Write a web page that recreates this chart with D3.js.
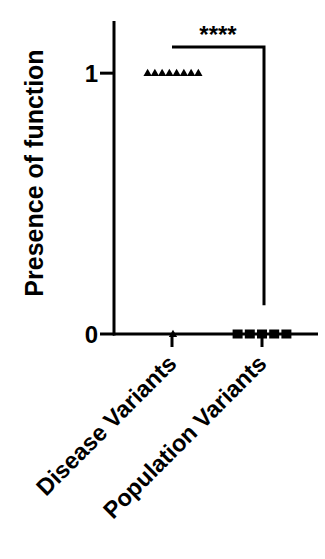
<!DOCTYPE html>
<html>
<head>
<meta charset="utf-8">
<script src="https://cdn.jsdelivr.net/npm/d3@7"></script>
<style>
html,body{margin:0;padding:0;background:#fff;}
svg{display:block;}
text{font-family:"Liberation Sans",Arial,sans-serif;font-weight:bold;fill:#000;}
</style>
</head>
<body>
<svg id="chart" width="325" height="559"></svg>
<script>
// Data
const categories = ["Disease Variants", "Population Variants"];
const diseaseValues = [1, 1, 1, 1, 1, 1, 1, 1, 0];
const populationValues = [0, 0, 0, 0, 0];
const yTicks = [0, 1];
const yLabel = "Presence of function";
const significance = "****";

const svg = d3.select("#chart");
const x = d3.scalePoint().domain(categories).range([172, 262]);
const y = d3.scaleLinear().domain([0, 1.2]).range([334, 21]);
const stroke = 3;

// y axis
svg.append("line").attr("x1", 114).attr("x2", 114).attr("y1", y(1.2)).attr("y2", y(0) + stroke/2)
  .attr("stroke", "#000").attr("stroke-width", stroke);
yTicks.forEach(t => {
  svg.append("line").attr("x1", 100).attr("x2", 114).attr("y1", y(t)).attr("y2", y(t))
    .attr("stroke", "#000").attr("stroke-width", stroke);
  svg.append("text").attr("x", 98).attr("y", y(t)).attr("dy", "0.36em")
    .attr("text-anchor", "end").attr("font-size", 24).text(t);
});
// x axis
svg.append("line").attr("x1", 113).attr("x2", 318).attr("y1", y(0)).attr("y2", y(0))
  .attr("stroke", "#000").attr("stroke-width", stroke);
categories.forEach(c => {
  svg.append("line").attr("x1", x(c)).attr("x2", x(c)).attr("y1", y(0)).attr("y2", y(0) + 13)
    .attr("stroke", "#000").attr("stroke-width", stroke);
  svg.append("text")
    .attr("transform", `translate(${x(c) + 6},${y(0) + 31}) rotate(-45)`)
    .attr("text-anchor", "end").attr("font-size", 23.5).text(c);
});
// y label
svg.append("text").attr("transform", `translate(43,173) rotate(-90)`)
  .attr("text-anchor", "middle").attr("font-size", 25).text(yLabel);

// points: spread equal values symmetrically around column center
function spread(values, pitch) {
  const groups = d3.group(values.map((v, i) => ({v, i})), d => d.v);
  const out = [];
  groups.forEach(arr => {
    const n = arr.length;
    arr.forEach((d, k) => out.push({v: d.v, off: (k - (n - 1) / 2) * pitch}));
  });
  return out;
}
const tri = d3.symbol().type(d3.symbolTriangle).size(30);
svg.append("g").selectAll("path").data(spread(diseaseValues, 7.25)).join("path")
  .attr("d", tri)
  .attr("transform", d => `translate(${x(categories[0]) + 1 + d.off},${y(d.v) + 0.5})`)
  .attr("fill", "#000");
svg.append("g").selectAll("rect").data(spread(populationValues, 12.2)).join("rect")
  .attr("x", d => x(categories[1]) - 5 + d.off).attr("y", d => y(d.v) - 4.5)
  .attr("width", 10).attr("height", 9).attr("fill", "#000");

// significance bracket
const bTop = y(1.1), bBottom = y(0.11);
svg.append("path")
  .attr("d", `M${x(categories[0])},${bTop}H${x(categories[1]) + 2}V${bBottom}`)
  .attr("fill", "none").attr("stroke", "#000").attr("stroke-width", stroke);
svg.append("text").attr("x", (x(categories[0]) + x(categories[1])) / 2 + 1).attr("y", bTop - 4)
  .attr("text-anchor", "middle").attr("font-size", 24).text(significance);
</script>
</body>
</html>
